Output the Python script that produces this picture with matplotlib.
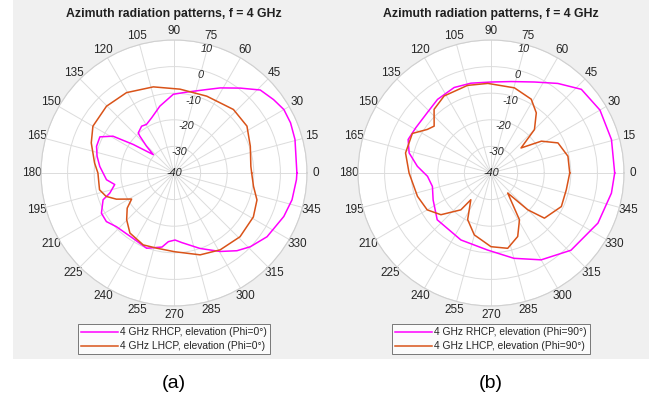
import numpy as np
import matplotlib.pyplot as plt
from matplotlib.patches import Rectangle

plt.rcParams['font.family'] = ['Liberation Sans', 'DejaVu Sans']

# Phi = 0 deg cut
rhcp_phi0_ang = [0, 15.5, 23.3, 30, 36.4, 43.9, 52, 61.5, 68.6, 81, 90.5, 101.9, 112, 119.5,
                 124.7, 131.7, 132.8, 135.7, 138.4, 145, 148.9, 154, 161, 167.7, 175, 185.7,
                 191, 197.4, 200.7, 209, 215.7, 223, 238, 250, 260.8, 265.3, 270.9, 276.3,
                 289, 300.4, 309, 316, 325.6, 338.4, 347.2, 356.9, 360]
rhcp_phi0_db = [6.2, 7.2, 7.7, 7.7, 6.5, 5.0, 0.5, -3.6, -6.3, -9.2, -10.4, -14.3, -17.6, -19.0,
                -18.6, -19.8, -21.1, -25.5, -29.6, -21.3, -13.2, -9.0, -9.2, -10.4, -12.0, -14.5,
                -17.3, -14.7, -11.5, -8.8, -8.7, -10.4, -11.0, -9.9, -11.8, -14.1, -14.8, -13.7,
                -10.0, -5.8, -2.4, -0.1, 2.4, 4.4, 5.5, 6.1, 6.2]

lhcp_phi0_ang = [0, 5, 19.3, 32.7, 46.9, 66.9, 85.9, 103.5, 120.6, 135.3, 150, 160, 172.8, 180,
                 192.7, 199, 204.4, 211.6, 216.9, 224.6, 233.7, 246.8, 257, 270.5, 287.7, 301,
                 316, 331, 342, 350.5, 360]
lhcp_phi0_db = [-10.8, -11.0, -9.6, -7.4, -7.3, -8.6, -8.4, -6.7, -4.9, -4.3, -4.8, -6.9, -9.9,
                -11.4, -11.3, -13.0, -16.2, -21.3, -18.0, -15.0, -12.0, -10.6, -11.0, -10.4,
                -7.7, -6.3, -5.5, -5.9, -7.2, -9.7, -10.8]

# Phi = 90 deg cut
rhcp_phi90_ang = [0, 15.5, 30, 42.8, 53.3, 64.5, 77.6, 90, 102.6, 113.3, 126, 136.5, 149, 158,
                  166.2, 174.8, 183, 192.9, 205, 221, 245.8, 267.5, 285, 300, 316, 334.9,
                  350.5, 360]
rhcp_phi90_db = [6.5, 7.0, 7.3, 6.3, 2.0, -2.1, -4.8, -5.8, -5.4, -5.0, -5.8, -7.0, -7.0, -6.4,
                 -8.3, -12.2, -16.1, -17.4, -16.0, -13.2, -12.4, -11.0, -6.8, -2.3, 1.8, 4.4,
                 5.9, 6.5]

lhcp_phi90_ang = [0, 12.3, 24.2, 32.3, 39.8, 45, 53, 61.4, 74.6, 92, 105, 121.3, 131.8, 140.5,
                  145.6, 153.3, 166.8, 180, 197.6, 210, 219.8, 230.7, 233, 243.4, 254.9, 270,
                  282.5, 292.8, 301.3, 309.8, 315, 319.8, 334.5, 347.5, 360]
lhcp_phi90_db = [-10.4, -10.4, -12.4, -17.6, -25.3, -16.9, -11.7, -8.4, -6.8, -6.3, -5.9, -6.1,
                 -7.9, -12.3, -11.0, -6.9, -7.0, -9.2, -11.0, -12.3, -15.5, -22.1, -27.4, -20.4,
                 -15.9, -12.3, -11.0, -14.1, -19.4, -30.2, -20.4, -13.7, -10.7, -11.0, -10.4]

r_ticks = [-40, -30, -20, -10, 0, 10]
theta_ticks = np.arange(0, 360, 15)

panels = [
    ('(a)', rhcp_phi0_ang, rhcp_phi0_db, lhcp_phi0_ang, lhcp_phi0_db, '0'),
    ('(b)', rhcp_phi90_ang, rhcp_phi90_db, lhcp_phi90_ang, lhcp_phi90_db, '90'),
]
centers_px = [174, 491]

W, H = 656, 401
R = 133
fig = plt.figure(figsize=(W / 100, H / 100), dpi=100, facecolor='white')
fig.patches.append(Rectangle((13 / W, 1 - 359 / H), (649 - 13) / W, 359 / H,
                             transform=fig.transFigure, facecolor='#f0f0f0',
                             edgecolor='none', zorder=-10))

cy = 173
for (tag, ra, rd, la, ld, phi), cx in zip(panels, centers_px):
    ax = fig.add_axes([(cx - R) / W, 1 - (cy + R) / H, 2 * R / W, 2 * R / H],
                      projection='polar')
    ax.set_facecolor('white')
    ax.set_theta_zero_location('E')
    ax.set_theta_direction(1)
    ax.set_ylim(-40, 10)
    ax.set_yticks(r_ticks)
    ax.set_yticklabels([])
    ax.set_xticks(np.deg2rad(theta_ticks))
    ax.set_xticklabels([str(t) for t in theta_ticks], fontsize=8.5, color='#262626')
    ax.tick_params(axis='x', pad=-4)
    ax.grid(True, color='#dcdcdc', linewidth=0.7)
    ax.spines['polar'].set_color('#d0d0d0')
    ax.spines['polar'].set_linewidth(0.8)

    # radial labels sit just inside their rings, along the 75 deg spoke
    for v in r_ticks:
        rv = v - 1.8 if v > -40 else -40
        ax.text(np.deg2rad(75), rv, str(v), fontsize=7.8, style='italic',
                color='#262626', ha='center', va='center', clip_on=False)

    ax.plot(np.deg2rad(ra), rd, color='#ff00ff', linewidth=1.1,
            label=f'4 GHz RHCP, elevation (Phi={phi}°)')
    ax.plot(np.deg2rad(la), ld, color='#d95319', linewidth=1.1,
            label=f'4 GHz LHCP, elevation (Phi={phi}°)')

    leg = ax.legend(loc='upper center', bbox_to_anchor=(0.5, -0.068), fontsize=7.4,
                    frameon=True, fancybox=False, handlelength=3.6, handletextpad=0.2,
                    borderpad=0.3, labelspacing=0.4, borderaxespad=0)
    leg.get_frame().set_edgecolor('#404040')
    leg.get_frame().set_linewidth(0.6)
    for t in leg.get_texts():
        t.set_color('#262626')

    fig.text(cx / W, 1 - 14 / H, 'Azimuth radiation patterns, f = 4 GHz', fontsize=8.8,
             fontweight='bold', color='#202020', ha='center', va='center')
    fig.text(cx / W, 1 - 384 / H, tag, fontsize=14, ha='center', va='center')

fig.savefig('out.png', dpi=100)
